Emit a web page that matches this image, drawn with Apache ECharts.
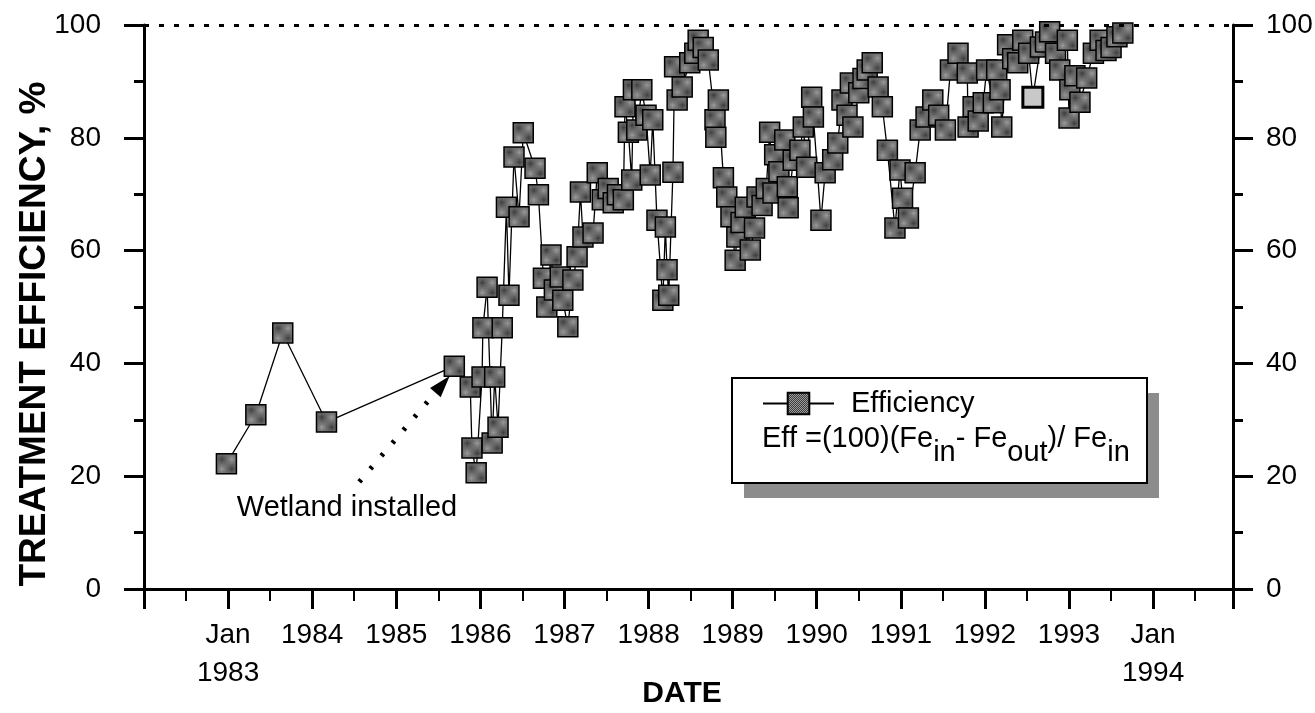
<!DOCTYPE html>
<html lang="en">

<head>
    <meta charset="utf-8">
    <title>Treatment efficiency</title>
    <script src="https://cdn.jsdelivr.net/npm/echarts@6/dist/echarts.min.js"></script>
    <style>
        html, body { margin: 0; padding: 0; background: #fff; }
        #main { width: 1315px; height: 713px; }
    </style>
</head>

<body>
    <div id="main"></div>

    <script type="text/javascript">

        // decimal year of each sample
        var years = [
            1982.98, 1983.33, 1983.65, 1984.17, 1985.69, 1985.88, 1985.90, 1985.95, 1986.02, 1986.03,
            1986.08, 1986.14, 1986.17, 1986.21, 1986.26, 1986.31, 1986.34, 1986.40, 1986.46, 1986.51,
            1986.65, 1986.69, 1986.75, 1986.79, 1986.84, 1986.88, 1986.95, 1986.98, 1987.04, 1987.10,
            1987.15, 1987.19, 1987.22, 1987.34, 1987.39, 1987.45, 1987.52, 1987.58, 1987.63, 1987.70,
            1987.72, 1987.76, 1987.80, 1987.82, 1987.86, 1987.92, 1987.97, 1988.02, 1988.05, 1988.10,
            1988.17, 1988.20, 1988.22, 1988.24, 1988.29, 1988.31, 1988.34, 1988.40, 1988.49, 1988.55,
            1988.59, 1988.65, 1988.71, 1988.79, 1988.80, 1988.83, 1988.89, 1988.93, 1988.98, 1989.03,
            1989.05, 1989.10, 1989.15, 1989.21, 1989.26, 1989.29, 1989.35, 1989.40, 1989.44, 1989.48,
            1989.50, 1989.55, 1989.62, 1989.65, 1989.66, 1989.72, 1989.80, 1989.84, 1989.88, 1989.94,
            1989.96, 1990.05, 1990.10, 1990.19, 1990.25, 1990.30, 1990.36, 1990.40, 1990.43, 1990.50,
            1990.55, 1990.60, 1990.66, 1990.73, 1990.78, 1990.84, 1990.93, 1990.99, 1991.02, 1991.09,
            1991.17, 1991.23, 1991.30, 1991.38, 1991.45, 1991.53, 1991.59, 1991.68, 1991.79, 1991.80,
            1991.86, 1991.92, 1991.98, 1992.02, 1992.10, 1992.14, 1992.18, 1992.20, 1992.27, 1992.33,
            1992.39, 1992.45, 1992.52, 1992.57, 1992.66, 1992.72, 1992.77, 1992.84, 1992.89, 1992.98,
            1993.00, 1993.01, 1993.07, 1993.13, 1993.21, 1993.29, 1993.37, 1993.44, 1993.50, 1993.57,
            1993.64
        ];

        // treatment efficiency, %
        var efficiency = [
            22.2, 30.9, 45.4, 29.6, 39.5, 35.8, 25.0, 20.6, 37.6, 46.3,
            53.5, 25.9, 37.6, 28.7, 46.3, 67.7, 52.1, 76.6, 66.0, 80.9,
            74.6, 69.9, 55.1, 50.0, 59.2, 53.0, 55.3, 51.2, 46.5, 54.8,
            58.9, 70.4, 62.4, 63.1, 73.8, 69.0, 71.0, 68.5, 69.9, 69.0,
            85.5, 81.0, 72.5, 88.5, 81.4, 88.5, 84.0, 73.4, 83.2, 65.4,
            51.2, 64.2, 56.6, 52.1, 73.9, 92.6, 86.7, 89.0, 93.3, 95.0,
            97.3, 96.0, 93.8, 83.2, 80.1, 86.7, 72.9, 69.5, 66.0, 58.3,
            62.4, 65.0, 67.7, 60.1, 64.0, 69.5, 68.0, 71.0, 81.0, 70.2,
            77.0, 74.0, 79.6, 71.3, 67.6, 76.0, 77.8, 81.9, 74.8, 87.2,
            83.7, 65.4, 73.8, 76.1, 79.1, 86.7, 84.0, 89.7, 81.9, 88.0,
            90.5, 92.0, 93.3, 89.0, 85.5, 77.8, 64.0, 74.3, 69.3, 65.8,
            73.8, 81.4, 83.7, 86.7, 84.0, 81.4, 92.0, 95.0, 91.5, 81.9,
            85.5, 83.0, 86.2, 92.0, 86.2, 92.0, 88.5, 81.9, 96.5, 94.0,
            93.3, 97.3, 95.0, 87.2, 96.1, 97.0, 98.8, 95.0, 92.0, 97.3,
            83.5, 88.5, 91.0, 86.3, 90.6, 95.0, 97.3, 95.5, 96.0, 97.9,
            98.6
        ];

        var yTicks = [0, 20, 40, 60, 80, 100];
        var lightPointYear = 1992.57;

        // annotation arrow (year, value) and its text
        var arrowFrom = [1984.56, 19.0];
        var arrowTo = [1985.55, 36.3];
        var arrowText = 'Wetland installed';

        var FONT = "'Liberation Sans', Arial, sans-serif";

        // grey dither used for the square markers
        var pat = document.createElement('canvas');
        pat.width = 2;
        pat.height = 2;
        var pc = pat.getContext('2d');
        pc.fillStyle = '#9a9a9a';
        pc.fillRect(0, 0, 2, 2);
        pc.fillStyle = '#3e3e3e';
        pc.fillRect(0, 0, 1, 1);
        pc.fillRect(1, 1, 1, 1);
        var markerFill = { image: pat, repeat: 'repeat' };

        var points = years.map(function (y, i) {
            var item = { value: [y, efficiency[i]] };
            if (y === lightPointYear) {
                item.itemStyle = { color: '#c8c8c8', borderWidth: 3 };
            }
            return item;
        });

        function xLabel(v) {
            if (Math.abs(v - Math.round(v)) > 1e-6) return '';
            if (v === 1983 || v === 1994) return 'Jan\n' + v;
            if (v > 1983 && v < 1994) return String(v);
            return '';
        }

        function yAxisOf(pos, margin) {
            return {
                type: 'value',
                position: pos,
                min: yTicks[0],
                max: yTicks[yTicks.length - 1],
                interval: 20,
                axisLine: { show: true, onZero: false, lineStyle: { color: '#000', width: 3 } },
                axisTick: { show: true, length: 20, lineStyle: { color: '#000', width: 3 } },
                minorTick: { show: true, splitNumber: 2, length: 10, lineStyle: { color: '#000', width: 3 } },
                splitLine: { show: false },
                axisLabel: { margin: margin, fontSize: 28, color: '#000', fontFamily: FONT }
            };
        }

        var myChart = echarts.init(document.getElementById('main'), null, { renderer: 'canvas' });

        myChart.setOption({
            animation: false,
            grid: { left: 144, right: 82, top: 25, bottom: 124, containLabel: false, outerBoundsMode: 'none' },
            legend: {
                data: ['Efficiency'],
                left: 762,
                top: 389,
                padding: 0,
                itemWidth: 71,
                itemHeight: 27,
                textStyle: { fontSize: 29, color: '#000', fontFamily: FONT, padding: [0, 0, 0, 12] },
                z: 6
            },
            xAxis: {
                type: 'value',
                min: 1982,
                max: 1994.95,
                interval: 1,
                axisLine: { show: true, onZero: false, lineStyle: { color: '#000', width: 3 } },
                axisTick: { show: true, length: 20, lineStyle: { color: '#000', width: 3 } },
                minorTick: { show: true, splitNumber: 2, length: 12, lineStyle: { color: '#000', width: 2 } },
                splitLine: { show: false },
                axisLabel: {
                    margin: 27,
                    fontSize: 28,
                    lineHeight: 38,
                    color: '#000',
                    fontFamily: FONT,
                    formatter: xLabel,
                    showMinLabel: true,
                    showMaxLabel: true,
                    hideOverlap: false
                }
            },
            yAxis: [yAxisOf('left', 43), yAxisOf('right', 33)],
            graphic: [
                {
                    type: 'text',
                    x: 35,
                    y: 334,
                    rotation: Math.PI / 2,
                    style: {
                        text: 'TREATMENT EFFICIENCY, %',
                        font: 'bold 37px ' + FONT,
                        fill: '#000',
                        textAlign: 'center',
                        textVerticalAlign: 'middle'
                    }
                },
                {
                    type: 'text',
                    x: 682,
                    y: 694,
                    style: {
                        text: 'DATE',
                        font: 'bold 30px ' + FONT,
                        fill: '#000',
                        textAlign: 'center',
                        textVerticalAlign: 'middle'
                    }
                },
                {
                    type: 'text',
                    x: 347,
                    y: 508,
                    style: {
                        text: arrowText,
                        font: '29px ' + FONT,
                        fill: '#000',
                        textAlign: 'center',
                        textVerticalAlign: 'middle'
                    }
                },
                // legend box shadow and frame
                {
                    type: 'rect',
                    z: 3,
                    shape: { x: 744, y: 393, width: 415, height: 105 },
                    style: { fill: '#8c8c8c' }
                },
                {
                    type: 'rect',
                    z: 4,
                    shape: { x: 732, y: 378, width: 415, height: 105 },
                    style: { fill: '#fff', stroke: '#000', lineWidth: 2 }
                },
                {
                    type: 'text',
                    z: 5,
                    x: 762,
                    y: 424,
                    style: {
                        text: '{m|Eff =(100)(Fe}{s|in}{m|- Fe}{s|out}{m|)/ Fe}{s|in}',
                        fill: '#000',
                        textVerticalAlign: 'top',
                        rich: {
                            m: { fontSize: 29, fontFamily: FONT, lineHeight: 43, verticalAlign: 'top' },
                            s: { fontSize: 29, fontFamily: FONT, lineHeight: 17, verticalAlign: 'bottom' }
                        }
                    }
                }
            ],
            series: [{
                name: 'Efficiency',
                type: 'line',
                data: points,
                showAllSymbol: true,
                symbol: 'rect',
                symbolSize: 20,
                lineStyle: { color: '#000', width: 1.3 },
                itemStyle: { color: markerFill, borderColor: '#000', borderWidth: 1.5 },
                emphasis: { disabled: true },
                markLine: {
                    silent: true,
                    animation: false,
                    symbol: ['none', 'none'],
                    label: { show: false },
                    data: [
                        {
                            yAxis: 100,
                            lineStyle: { color: '#000', width: 3, type: [5, 10] }
                        },
                        [
                            { coord: arrowFrom, lineStyle: { color: '#000', width: 5, type: [3, 14] } },
                            { coord: arrowTo, symbol: 'triangle', symbolSize: [14, 22] }
                        ]
                    ]
                }
            }]
        });

    </script>
</body>

</html>
